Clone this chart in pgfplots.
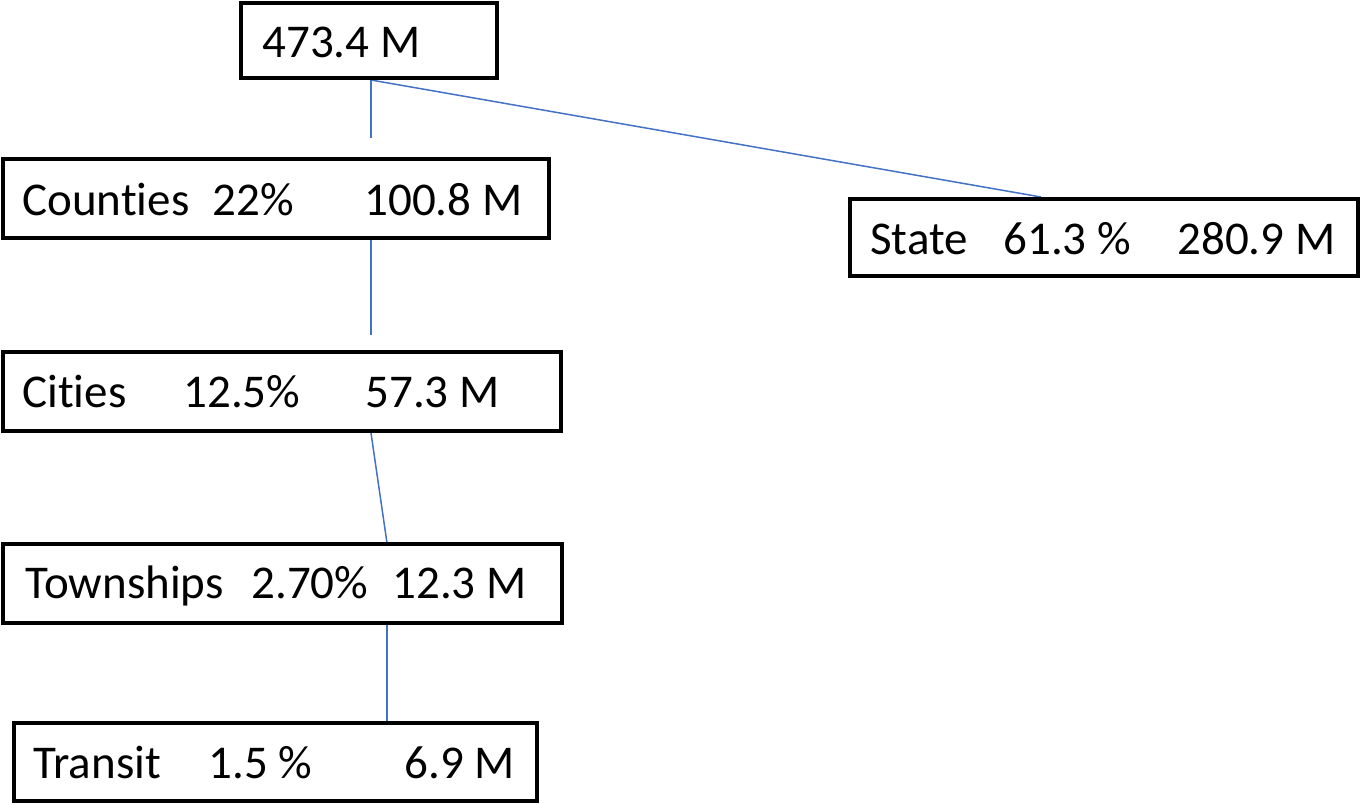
\documentclass[border=0pt]{standalone}
\usepackage{pgfplots}
\pgfplotsset{compat=1.18}
\usepackage{fontspec}
\setmainfont{Carlito}[RawFeature={-liga;-clig}]
\definecolor{lnk}{HTML}{4472C4}
\tikzset{lbl/.style={font=\fontsize{23.5pt}{28pt}\selectfont, inner sep=0pt, anchor=base west}}
\begin{document}
\begin{tikzpicture}
\begin{axis}[
  width=680.5pt, height=402pt, scale only axis,
  xmin=0, xmax=1361, ymin=0, ymax=804, y dir=reverse,
  hide axis, clip=false,
]
% invisible frame to fix the bounding box
\addplot[draw=none] coordinates {(0,0) (1361,804)};
% connectors
\addplot[lnk, line width=0.75pt] coordinates {(371,80) (371,138)};
\addplot[lnk, line width=0.75pt] coordinates {(371,80) (1041,197)};
\addplot[lnk, line width=0.75pt] coordinates {(371,240) (371,335)};
\addplot[lnk, line width=0.75pt] coordinates {(371,433) (387,543)};
\addplot[lnk, line width=0.75pt] coordinates {(387,625) (387,722)};
% boxes
\addplot[black, line width=2pt, fill=white] coordinates {(241,3) (497,3) (497,78) (241,78)} -- cycle;
\addplot[black, line width=2pt, fill=white] coordinates {(3,159) (549,159) (549,238) (3,238)} -- cycle;
\addplot[black, line width=2pt, fill=white] coordinates {(850,199) (1358,199) (1358,276) (850,276)} -- cycle;
\addplot[black, line width=2pt, fill=white] coordinates {(3,352) (561,352) (561,431) (3,431)} -- cycle;
\addplot[black, line width=2pt, fill=white] coordinates {(3,544) (562,544) (562,623) (3,623)} -- cycle;
\addplot[black, line width=2pt, fill=white] coordinates {(14,723) (537,723) (537,801) (14,801)} -- cycle;
% texts
\node[lbl] at (axis cs:262,57) {473.4 M};
\node[lbl] at (axis cs:22,215) {Counties};
\node[lbl] at (axis cs:212,215) {22\%};
\node[lbl] at (axis cs:364,215) {100.8 M};
\node[lbl] at (axis cs:870,254) {State};
\node[lbl] at (axis cs:1003,254) {61.3 \%};
\node[lbl] at (axis cs:1177,254) {280.9 M};
\node[lbl] at (axis cs:22,407) {Cities};
\node[lbl] at (axis cs:183,407) {12.5\%};
\node[lbl] at (axis cs:365,407) {57.3 M};
\node[lbl] at (axis cs:25,598) {Townships};
\node[lbl] at (axis cs:251,598) {2.70\%};
\node[lbl] at (axis cs:392,598) {12.3 M};
\node[lbl] at (axis cs:33,778) {Transit};
\node[lbl] at (axis cs:208,778) {1.5 \%};
\node[lbl] at (axis cs:404,778) {6.9 M};
\end{axis}
\end{tikzpicture}
\end{document}
